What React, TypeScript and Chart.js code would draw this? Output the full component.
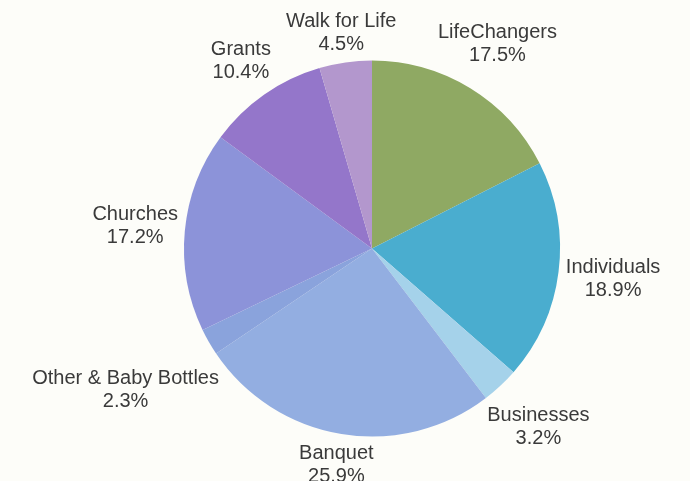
import React, { useEffect, useRef } from "react";
import { Chart, registerables } from "chart.js";

Chart.register(...registerables);

const categories = [
  "LifeChangers",
  "Individuals",
  "Businesses",
  "Banquet",
  "Other & Baby Bottles",
  "Churches",
  "Grants",
  "Walk for Life",
];
const shares = [17.5, 18.9, 3.2, 25.9, 2.3, 17.2, 10.4, 4.5];
const sliceColors = [
  "#8fa963",
  "#4aadcf",
  "#a5d2ea",
  "#93aee1",
  "#8aa3dc",
  "#8c93d9",
  "#9476ca",
  "#b397cd",
];

const FONT = "20px 'Liberation Sans', Arial, sans-serif";
const LINE = 23;
const GAP = 6;

const bgPlugin = {
  id: "bg",
  beforeDraw(chart: any) {
    const ctx = chart.ctx;
    ctx.save();
    ctx.fillStyle = "#fdfdf9";
    ctx.fillRect(0, 0, chart.width, chart.height);
    ctx.restore();
  },
};

const labelPlugin = {
  id: "outerLabels",
  afterDraw(chart: any) {
    const ctx = chart.ctx;
    const meta = chart.getDatasetMeta(0);
    ctx.save();
    ctx.font = FONT;
    ctx.fillStyle = "#3a3a3a";
    ctx.textAlign = "center";
    ctx.textBaseline = "middle";
    meta.data.forEach((arc: any, i: number) => {
      const p = arc.getProps(["x", "y", "startAngle", "endAngle", "outerRadius"], true);
      const mid = (p.startAngle + p.endAngle) / 2;
      const ux = Math.cos(mid);
      const uy = Math.sin(mid);
      const l1 = categories[i];
      const l2 = shares[i].toFixed(1) + "%";
      const hw = Math.max(ctx.measureText(l1).width, ctx.measureText(l2).width) / 2;
      const hh = LINE - 1;
      const target = p.outerRadius + GAP;
      let lo = 0;
      let hi = 1000;
      for (let k = 0; k < 60; k++) {
        const d = (lo + hi) / 2;
        const dx = Math.max(Math.abs(d * ux) - hw, 0);
        const dy = Math.max(Math.abs(d * uy) - hh, 0);
        const dist = Math.sqrt(dx * dx + dy * dy);
        if (dist < target) lo = d;
        else hi = d;
      }
      const cx = p.x + lo * ux;
      const cy = p.y + lo * uy;
      ctx.fillText(l1, cx, cy - LINE / 2);
      ctx.fillText(l2, cx, cy + LINE / 2);
    });
    ctx.restore();
  },
};

export default function App() {
  const ref = useRef<HTMLCanvasElement | null>(null);
  useEffect(() => {
    document.body.style.margin = "0";
    const chart = new Chart(ref.current as HTMLCanvasElement, {
      type: "pie",
      data: {
        labels: categories,
        datasets: [
          {
            data: shares,
            backgroundColor: sliceColors,
            borderWidth: 0,
          },
        ],
      },
      options: {
        animation: false,
        responsive: false,
        maintainAspectRatio: false,
        layout: { padding: { top: 60, bottom: 44, left: 184, right: 130 } },
        plugins: {
          legend: { display: false },
          tooltip: { enabled: false },
        },
      },
      plugins: [bgPlugin, labelPlugin],
    });
    return () => chart.destroy();
  }, []);
  return (
    <div style={{ position: "absolute", left: 0, top: 0, width: 690, height: 481 }}>
      <canvas ref={ref} width={690} height={481} style={{ display: "block" }} />
    </div>
  );
}
